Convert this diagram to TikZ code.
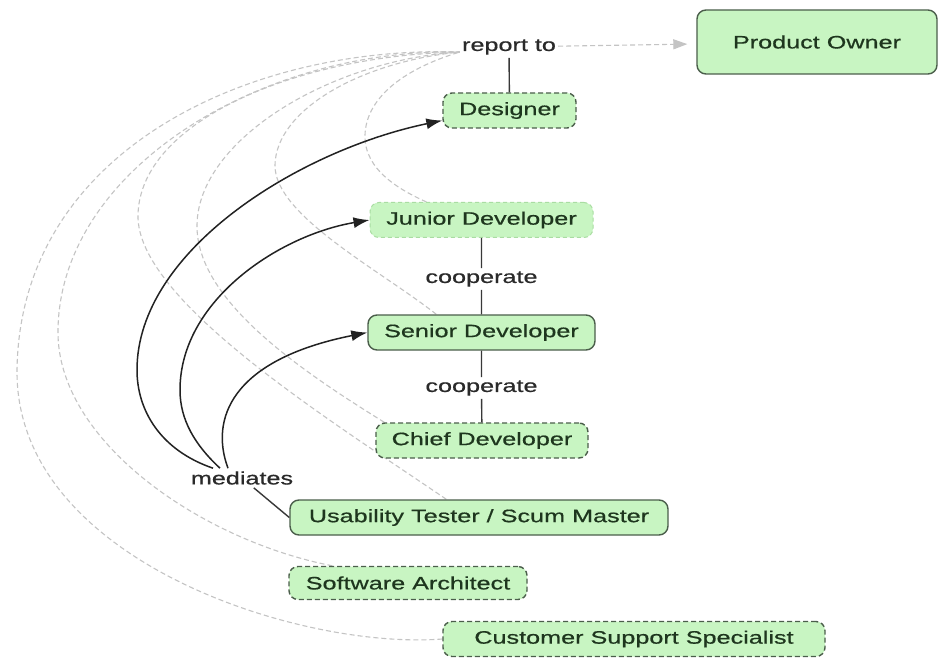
\documentclass[tikz,border=0pt]{standalone}
\usepackage{fontspec}
\setmainfont{Liberation Sans}[FakeStretch=1.4, FakeBold=0.6]
\usetikzlibrary{arrows.meta}

\definecolor{boxfill}{HTML}{C8F5C2}
\definecolor{boxline}{HTML}{4B5E4B}
\definecolor{boxtext}{HTML}{1E361E}
\definecolor{linktext}{HTML}{2A2A2A}
\definecolor{faint}{HTML}{C4C4C4}
\definecolor{softedge}{HTML}{A9DDA2}
\definecolor{ink}{HTML}{222222}

\pgfdeclarelayer{background}
\pgfsetlayers{background,main}

\begin{document}
\begin{tikzpicture}[x=1pt,y=-1pt,
  concept/.style={rounded corners=9pt, fill=boxfill, draw=boxline, line width=1.4pt,
    text=boxtext, font=\fontsize{18}{20}\selectfont, minimum height=35pt,
    inner xsep=0pt, inner ysep=0pt},
  dashedconcept/.style={concept, dash pattern=on 5pt off 3pt},
  softconcept/.style={concept, draw=softedge, line width=1pt, dash pattern=on 4pt off 3pt},
  phrase/.style={text=linktext, font=\fontsize{18}{20}\selectfont, inner xsep=2pt, inner ysep=3pt},
  graylink/.style={draw=faint, line width=1.1pt, dash pattern=on 5pt off 3pt},
  plainlink/.style={draw=ink!90, line width=1.4pt},
  medlink/.style={draw=ink, line width=1.5pt, -{Latex[length=16pt,width=11pt]}}
]
\useasboundingbox (0,0) rectangle (938,658);

% concepts and linking phrases
\node[concept, minimum width=240pt, minimum height=64pt] (po) at (817,42) {Product Owner};
\node[phrase] (report) at (509,47) {report to};
\node[dashedconcept, minimum width=133pt] (designer) at (509.5,110.5) {Designer};
\node[softconcept, minimum width=223pt] (junior) at (481.5,220) {Junior Developer};
\node[phrase] (coopA) at (481.5,279) {cooperate};
\node[concept, minimum width=227pt] (senior) at (481.5,332.5) {Senior Developer};
\node[phrase] (coopB) at (481.5,388) {cooperate};
\node[dashedconcept, minimum width=212pt] (chief) at (482,440.5) {Chief Developer};
\node[phrase] (med) at (242,478) {mediates};
\node[concept, minimum width=378pt] (usab) at (479,517.5) {Usability Tester / Scum Master};
\node[dashedconcept, minimum width=238pt, minimum height=33pt] (arch) at (408,583) {Software Architect};
\node[dashedconcept, minimum width=382pt] (cust) at (634,639) {Customer Support Specialist};

% white page and the faded "report to" links, behind the boxes
\begin{pgfonlayer}{background}
\fill[white] (0,0) rectangle (938,658);
\draw[graylink] ([xshift=57pt]junior.north west)
  .. controls (400,190) and (364,170) .. (365,135)
  .. controls (366,100) and (400,70) .. ([yshift=-5pt]report.west);
\draw[graylink] ([xshift=69pt]senior.north west)
  .. controls (380,270) and (274,215) .. (275,165)
  .. controls (276,110) and (360,62) .. ([yshift=-5pt]report.west);
\draw[graylink] ([xshift=9pt]chief.north west)
  .. controls (300,370) and (196,300) .. (197,225)
  .. controls (198,140) and (330,60) .. ([yshift=-5pt]report.west);
\draw[graylink] ([xshift=157pt]usab.north west)
  .. controls (330,420) and (136,300) .. (138,215)
  .. controls (140,120) and (300,55) .. ([yshift=-5pt]report.west);
\draw[graylink] ([xshift=44pt]arch.north west)
  .. controls (200,540) and (56,440) .. (58,330)
  .. controls (60,170) and (260,48) .. ([yshift=-5pt]report.west);
\draw[graylink] (cust.west)
  .. controls (300,650) and (15,560) .. (17,370)
  .. controls (20,150) and (250,45) .. ([yshift=-5pt]report.west);
\end{pgfonlayer}

\draw[graylink, shorten >=9pt, -{Triangle[length=14pt,width=10pt,fill=faint]}] (report) -- (po);

% solid links
\draw[plainlink] (report) -- (designer);
\draw[plainlink] (junior) -- (coopA) -- (senior) -- (coopB) -- (chief);
\draw[plainlink] (med) -- (usab.west);

% mediates arrows
\draw[medlink] ([xshift=-29pt]med.north)
  .. controls (160,450) and (137,410) .. (137,370)
  .. controls (137,250) and (300,150) .. ([yshift=-10pt]designer.west);
\draw[medlink] ([xshift=-22pt]med.north)
  .. controls (195,445) and (180,420) .. (180,390)
  .. controls (180,300) and (280,235) .. (junior.west);
\draw[medlink] ([xshift=-14pt]med.north)
  .. controls (210,420) and (230,360) .. (senior.west);
\end{tikzpicture}
\end{document}
